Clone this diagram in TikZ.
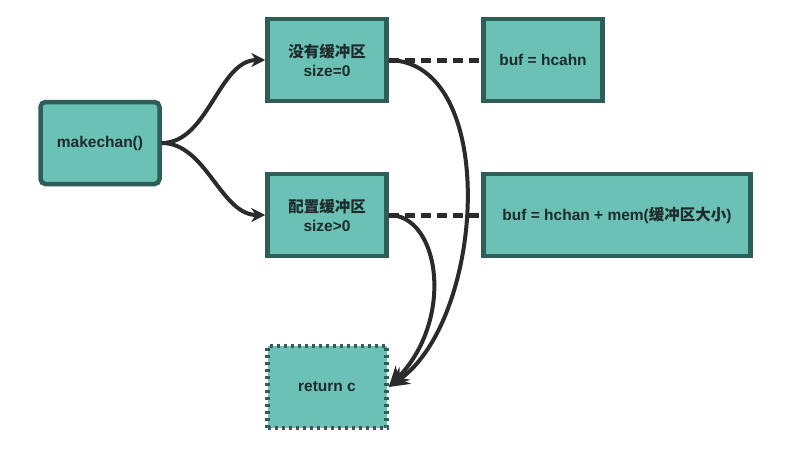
\documentclass[tikz,border=0pt]{standalone}
\usepackage{fontspec}
\setmainfont{Liberation Sans}
\newfontfamily\cjk{Noto Sans CJK SC}
\usetikzlibrary{arrows.meta}

\definecolor{boxfill}{HTML}{6CC1B6}
\definecolor{boxline}{HTML}{2F5E58}
\definecolor{flowcol}{HTML}{2B2B2B}
\definecolor{txtcol}{HTML}{1E2B2B}

\tikzset{
  chanbox/.style={draw=boxline, fill=boxfill, line width=4.5pt, text=txtcol,
    minimum width=119pt, minimum height=82pt, align=center,
    font=\fontsize{15.5}{19}\selectfont\bfseries},
  flow/.style={draw=flowcol, line width=4pt, -{Stealth[length=14pt,width=14pt]}},
  bigflow/.style={draw=flowcol, line width=4pt, -{Stealth[length=20pt,width=20pt]}},
  link/.style={draw=flowcol, line width=5pt, dash pattern=on 10pt off 6pt},
}

\begin{document}
\begin{tikzpicture}[x=1pt,y=-1pt]
\useasboundingbox (0,0) rectangle (798,461);
% boxes
\node[chanbox, rounded corners=5pt] (mk) at (100,143) {makechan()};
\node[chanbox] (nobuf) at (327,60) {{\cjk 没有缓冲区}\\size=0};
\node[chanbox] (cfg) at (327,215) {{\cjk 配置缓冲区}\\size>0};
\node[chanbox] (bufa) at (543,60) {buf = hcahn};
\node[chanbox, minimum width=267pt] (bufb) at (617,215) {buf = hchan + mem({\cjk 缓冲区大小})};
\node[chanbox, dash pattern=on 3pt off 4pt] (ret) at (327,387) {return c};
% connectors
\draw[flow] (mk.east) to[out=0,in=180,looseness=0.9] (nobuf.west);
\draw[flow] (mk.east) to[out=0,in=180,looseness=0.9] (cfg.west);
\draw[link] (nobuf.east) -- (bufa.west);
\draw[link] (cfg.east) -- (bufb.west);
\draw[bigflow] (nobuf.east) .. controls (500,62) and (485,320) .. (ret.east);
\draw[bigflow] (cfg.east) .. controls (440,215) and (455,320) .. (ret.east);
\end{tikzpicture}
\end{document}
